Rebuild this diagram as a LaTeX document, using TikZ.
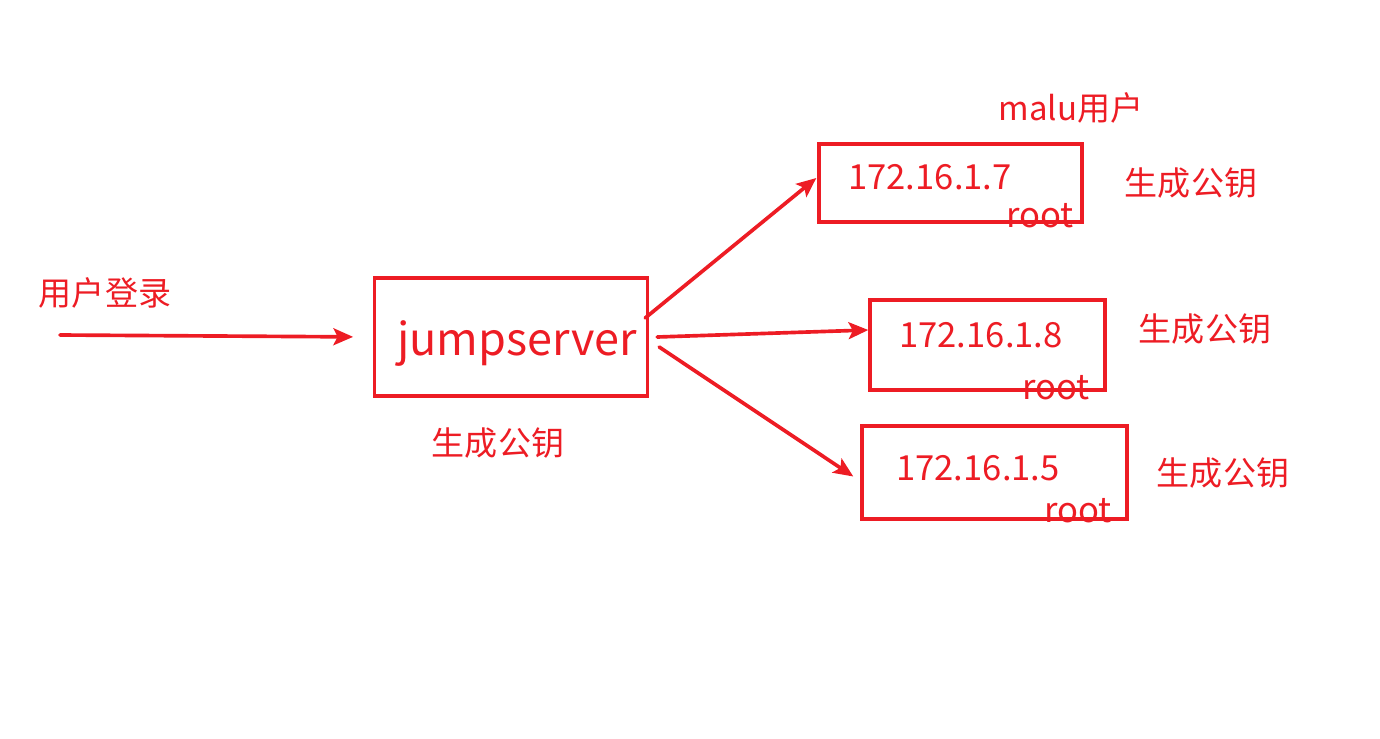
\documentclass[tikz,border=0pt]{standalone}
\usepackage{fontspec}
\setmainfont{Noto Sans CJK SC}
\usepackage{xcolor}
\definecolor{penred}{HTML}{ED1C24}
\usetikzlibrary{arrows.meta}
\tikzstyle{line} = [draw=penred, line width=2.6pt, line cap=round, -{Stealth[length=14pt,width=12pt,inset=3pt]}]
\tikzstyle{block} = [draw=penred, line width=2.4pt, rectangle, inner sep=0pt]
\tikzstyle{txt} = [text=penred, inner sep=0pt, font=\fontsize{23.5}{26}\selectfont]
\tikzstyle{ip} = [text=penred, inner sep=0pt, font=\fontsize{24.6}{27}\selectfont]

\begin{document}
\begin{tikzpicture}[x=0.025cm, y=-0.025cm]
        \useasboundingbox (0,0) rectangle (1380,738);
        % jumpserver
        \node[block, minimum width=273*0.025cm, minimum height=118*0.025cm] (Jump) at (511,337) {};
        \node[txt, font=\fontsize{32}{35}\selectfont] (JumpText) at (517,343) {jumpserver};
        \node[txt] (JumpKey) at (498,443) {生成公钥};
        \coordinate (UserIn) at (60,335);
        \node[txt] (Login) at (105,293) {用户登录};
        % targets
        \node[block, minimum width=263*0.025cm, minimum height=78*0.025cm] (Host7) at (950.5,183) {};
        \node[block, minimum width=235*0.025cm, minimum height=90*0.025cm] (Host8) at (987.5,345) {};
        \node[block, minimum width=265*0.025cm, minimum height=93*0.025cm] (Host5) at (994.5,472.5) {};
        \node[ip] (IP7) at (930,177) {172.16.1.7};
        \node[ip] (IP8) at (981,335) {172.16.1.8};
        \node[ip] (IP5) at (978,468) {172.16.1.5};
        \node[ip] (Root7) at (1040,216) {root};
        \node[ip] (Root8) at (1056,388) {root};
        \node[ip] (Root5) at (1078,511) {root};
        \node[txt] (Malu) at (1071,108) {malu用户};
        \node[txt] (Key7) at (1191,183) {生成公钥};
        \node[txt] (Key8) at (1205,329) {生成公钥};
        \node[txt] (Key5) at (1223,473) {生成公钥};
        % arrows
        \draw[line, shorten >=14pt] (UserIn) -- (Jump.west);
        \draw[line] ([shift={(-4,-19)}]Jump.east) -- ([shift={(-1,-5)}]Host7.west);
        \draw[line] ([shift={(8,0)}]Jump.east) -- ([shift={(0,-15)}]Host8.west);
        \draw[line] ([shift={(10,10)}]Jump.east) -- ([shift={(-7,4)}]Host5.west);
    \end{tikzpicture}
\end{document}
